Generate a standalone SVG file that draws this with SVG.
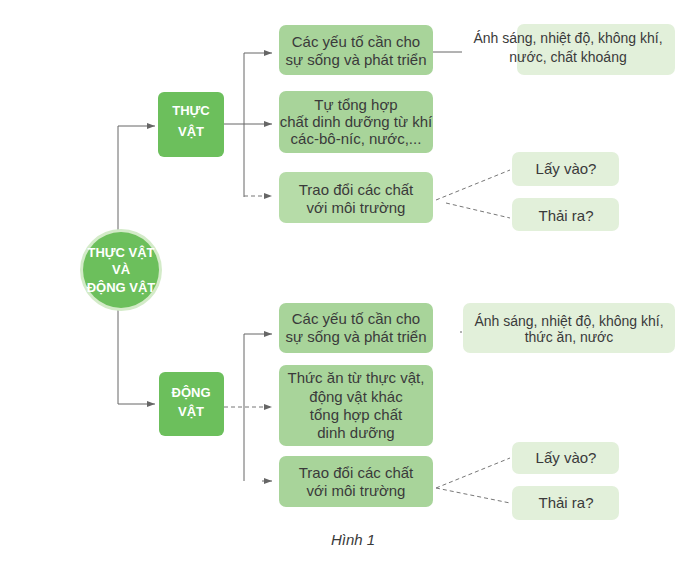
<svg xmlns="http://www.w3.org/2000/svg" width="691" height="568" viewBox="0 0 691 568">
<style>
.bg{fill:#ffffff}
.main{fill:#6cbf5c}
.box{fill:#a8d49a}
.box3{fill:#b6dca8}
.light{fill:#e2f0da}
.t{font-family:"Liberation Sans","Open Sans",sans-serif;font-size:15px;fill:#3a3a3a;text-anchor:middle}
.s{font-family:"Liberation Sans","Open Sans",sans-serif;font-size:14px;fill:#3a3a3a;text-anchor:middle}
.q{font-family:"Liberation Sans","Open Sans",sans-serif;font-size:15px;fill:#3a3a3a;text-anchor:middle}
.w{font-family:"Liberation Sans","Open Sans",sans-serif;font-size:13px;font-weight:bold;fill:#ffffff;text-anchor:middle}
.ln{stroke:#666;stroke-width:1;fill:none}
.dl{stroke:#777;stroke-width:1;fill:none;stroke-dasharray:4 3}
</style>
<defs>
<marker id="ah" viewBox="0 0 8 6" refX="8" refY="3" markerWidth="8" markerHeight="6" markerUnits="userSpaceOnUse" orient="auto">
<path d="M0,0 L8,3 L0,6 Z" fill="#666"/>
</marker>
</defs>
<rect class="bg" width="691" height="568"/>

<g id="connectors">
<path class="ln" d="M118,231 V126 H155" marker-end="url(#ah)"/>
<path class="ln" d="M224,124 H244"/>
<path class="ln" d="M244,53 V197"/>
<path class="ln" d="M244,53 H272" marker-end="url(#ah)"/>
<path class="ln" d="M244,124 H272" marker-end="url(#ah)"/>
<path class="dl" d="M244,196 H272" marker-end="url(#ah)"/>
<path class="ln" d="M433,52 H462"/>
<path class="dl" d="M436,200 L510,170"/>
<path class="dl" d="M446,203 L510,218"/>
<path class="ln" d="M118,310 V404 H155" marker-end="url(#ah)"/>
<path class="ln" d="M244,334 V481"/>
<path class="ln" d="M244,334 H272" marker-end="url(#ah)"/>
<path class="dl" d="M224,407 H272" marker-end="url(#ah)"/>
<path class="ln" d="M262,481 H272" marker-end="url(#ah)"/>
<path class="ln" d="M460,332 H462"/>
<path class="dl" d="M436,488 L510,458"/>
<path class="dl" d="M436,488 L510,503"/>
</g>

<g id="center">
<circle cx="121" cy="270" r="41" fill="#d3ebc8"/>
<circle cx="121" cy="270" r="38" class="main"/>
<text class="w" x="121" y="257">THỰC VẬT</text>
<text class="w" x="121" y="274">VÀ</text>
<text class="w" x="121" y="292">ĐỘNG VẬT</text>
</g>

<g id="thucvat">
<rect class="main" x="158" y="92" width="66" height="65" rx="6"/>
<text class="w" x="191" y="115">THỰC</text>
<text class="w" x="191" y="136">VẬT</text>
</g>

<g id="tv1">
<rect class="box" x="279" y="25" width="154" height="50" rx="7"/>
<text class="t" x="356" y="47">Các yếu tố cần cho</text>
<text class="t" x="356" y="65">sự sống và phát triển</text>
</g>

<g id="tv2">
<rect class="box" x="279" y="91" width="154" height="62" rx="7"/>
<text class="t" x="356" y="110">Tự tổng hợp</text>
<text class="t" x="356" y="127">chất dinh dưỡng từ khí</text>
<text class="t" x="356" y="144">các-bô-níc, nước,...</text>
</g>

<g id="tv3">
<rect class="box3" x="279" y="172" width="154" height="51" rx="7"/>
<text class="t" x="356" y="195">Trao đổi các chất</text>
<text class="t" x="356" y="213">với môi trường</text>
</g>

<g id="tv1a">
<rect class="light" x="517" y="24" width="158" height="51" rx="7"/>
<text class="s" x="568" y="43">Ánh sáng, nhiệt độ, không khí,</text>
<text class="s" x="568" y="62">nước, chất khoáng</text>
</g>

<g id="tv3a">
<rect class="light" x="512" y="152" width="107" height="34" rx="7"/>
<text class="q" x="566" y="174">Lấy vào?</text>
</g>

<g id="tv3b">
<rect class="light" x="512" y="198" width="107" height="33" rx="7"/>
<text class="q" x="566" y="221">Thải ra?</text>
</g>

<g id="dongvat">
<rect class="main" x="159" y="372" width="65" height="64" rx="6"/>
<text class="w" x="191" y="397">ĐỘNG</text>
<text class="w" x="191" y="416">VẬT</text>
</g>

<g id="dv1">
<rect class="box" x="279" y="303" width="154" height="50" rx="7"/>
<text class="t" x="356" y="324">Các yếu tố cần cho</text>
<text class="t" x="356" y="342">sự sống và phát triển</text>
</g>

<g id="dv2">
<rect class="box" x="279" y="365" width="154" height="81" rx="7"/>
<text class="t" x="356" y="383">Thức ăn từ thực vật,</text>
<text class="t" x="356" y="402">động vật khác</text>
<text class="t" x="356" y="420">tổng hợp chất</text>
<text class="t" x="356" y="438">dinh dưỡng</text>
</g>

<g id="dv3">
<rect class="box" x="279" y="456" width="154" height="51" rx="7"/>
<text class="t" x="356" y="478">Trao đổi các chất</text>
<text class="t" x="356" y="496">với môi trường</text>
</g>

<g id="dv1a">
<rect class="light" x="463" y="303" width="212" height="50" rx="7"/>
<text class="s" x="569" y="326">Ánh sáng, nhiệt độ, không khí,</text>
<text class="s" x="569" y="342">thức ăn, nước</text>
</g>

<g id="dv3a">
<rect class="light" x="512" y="442" width="107" height="32" rx="7"/>
<text class="q" x="566" y="463">Lấy vào?</text>
</g>

<g id="dv3b">
<rect class="light" x="512" y="486" width="107" height="34" rx="7"/>
<text class="q" x="566" y="508">Thải ra?</text>
</g>

<text x="353" y="545" style="font-family:'Liberation Sans','Open Sans',sans-serif;font-size:15px;font-style:italic;fill:#3a3a3a;text-anchor:middle">Hình 1</text>
</svg>
